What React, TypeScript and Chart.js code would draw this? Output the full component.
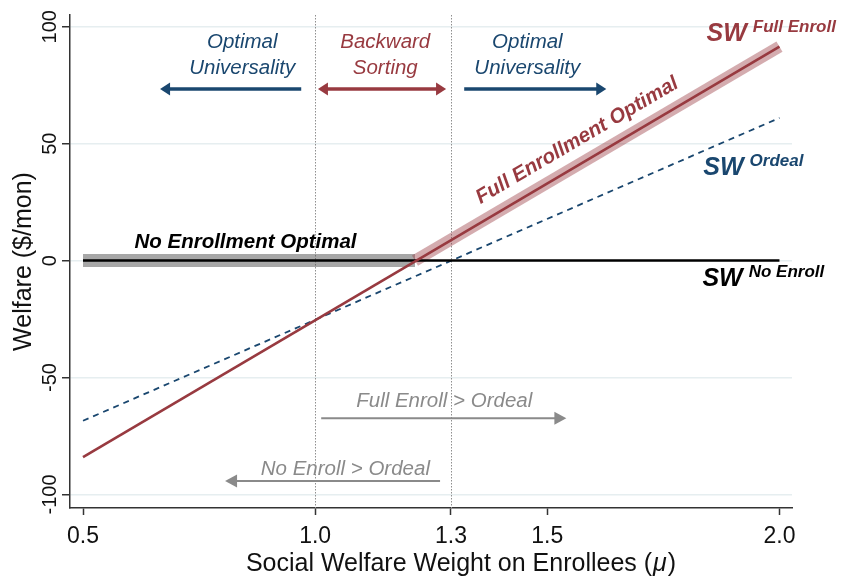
import React, { useEffect, useRef } from 'react';
import { Chart, registerables } from 'chart.js';
Chart.register(...registerables);

// ---------- data ----------
const muEnds = [0.5, 2.0];
const swFullEnroll = [-84, 91.5];
const swOrdeal = [-68.5, 61];
const swNoEnroll = [0, 0];
const bandNoEnrollMu = [0.5, 1.215];
const bandNoEnrollY = [0, 0];
const bandFullMu = [1.215, 2.0];
const bandFullY = [0, 91.5];

const xTickValues = [0.5, 1.0, 1.2925, 1.5, 2.0];
const xTickLabels = ['0.5', '1.0', '1.3', '1.5', '2.0'];
const yTickValues = [-100, -50, 0, 50, 100];
const yTickLabels = ['-100', '-50', '0', '50', '100'];
const refLineMu = [1.0, 1.2925];

const X_MIN = 0.472, X_MAX = 2.027, Y_MIN = -105.8, Y_MAX = 105;

const NAVY = '#1a476f';
const MAROON = '#983a40';
const GRAY = '#8a8a8a';
const FONT = '"Liberation Sans", Arial, Helvetica, sans-serif';

// region labels (top)
const regionText = [
  { lines: ['Optimal', 'Universality'], mu: 0.843, color: NAVY },
  { lines: ['Backward', 'Sorting'], mu: 1.151, color: MAROON },
  { lines: ['Optimal', 'Universality'], mu: 1.457, color: NAVY },
];
const regionTextY = [90.9, 79.8];
const regionArrows = [
  { from: 0.97, to: 0.666, both: false, color: NAVY },
  { from: 1.282, to: 1.006, both: true, color: MAROON },
  { from: 1.321, to: 1.627, both: false, color: NAVY },
];
const regionArrowY = 73.4;

// comparison labels (bottom, gray)
const compareText = [
  { text: 'Full Enroll > Ordeal', mu: 1.278, y: -62.8 },
  { text: 'No Enroll > Ordeal', mu: 1.065, y: -91.8 },
];
const compareArrows = [
  { from: 1.013, to: 1.541, y: -67.4 },
  { from: 1.269, to: 0.806, y: -94.3 },
];

// line labels
const swLabels = [
  { sup: 'Full Enroll', mu: 1.843, y: 94.05, color: MAROON },
  { sup: 'Ordeal', mu: 1.836, y: 36.7, color: NAVY },
  { sup: 'No Enroll', mu: 1.834, y: -10.7, color: '#000' },
];
const noEnrollOptimal = { text: 'No Enrollment Optimal', mu: 0.85, y: 5.5 };
const fullEnrollOptimal = { text: 'Full Enrollment Optimal', mu: 1.588, y: 43.3, offset: 16 };

const pts = (xs: number[], ys: number[]) => xs.map((x, i) => ({ x, y: ys[i] }));

function drawArrow(ctx: CanvasRenderingContext2D, x1: number, y1: number, x2: number, y2: number,
  color: string, lw: number, headLen: number, headHalf: number, both: boolean) {
  const ang = Math.atan2(y2 - y1, x2 - x1);
  const cos = Math.cos(ang), sin = Math.sin(ang);
  const sx = both ? x1 + cos * headLen * 0.8 : x1;
  const sy = both ? y1 + sin * headLen * 0.8 : y1;
  const ex = x2 - cos * headLen * 0.8, ey = y2 - sin * headLen * 0.8;
  ctx.save();
  ctx.strokeStyle = color; ctx.fillStyle = color; ctx.lineWidth = lw; ctx.lineCap = 'butt';
  ctx.beginPath(); ctx.moveTo(sx, sy); ctx.lineTo(ex, ey); ctx.stroke();
  const head = (tx: number, ty: number, c: number, s: number) => {
    ctx.beginPath();
    ctx.moveTo(tx, ty);
    ctx.lineTo(tx - c * headLen - s * headHalf, ty - s * headLen + c * headHalf);
    ctx.lineTo(tx - c * headLen + s * headHalf, ty - s * headLen - c * headHalf);
    ctx.closePath(); ctx.fill();
  };
  head(x2, y2, cos, sin);
  if (both) head(x1, y1, -cos, -sin);
  ctx.restore();
}

const annotPlugin = {
  id: 'annot',
  beforeDatasetsDraw(chart: any) {
    const { ctx, chartArea: a, scales } = chart;
    const x = scales.x;
    ctx.save();
    ctx.strokeStyle = '#8f8f8f'; ctx.lineWidth = 1; ctx.setLineDash([1.5, 1.5]);
    refLineMu.forEach((v) => {
      const px = Math.round(x.getPixelForValue(v)) + 0.5;
      ctx.beginPath(); ctx.moveTo(px, a.top); ctx.lineTo(px, a.bottom); ctx.stroke();
    });
    ctx.restore();
  },
  afterDatasetsDraw(chart: any) {
    const { ctx, scales } = chart;
    const X = (v: number) => scales.x.getPixelForValue(v);
    const Y = (v: number) => scales.y.getPixelForValue(v);
    ctx.save();
    // region texts
    ctx.font = `italic 20.5px ${FONT}`; ctx.textAlign = 'center'; ctx.textBaseline = 'alphabetic';
    regionText.forEach((r) => {
      ctx.fillStyle = r.color;
      r.lines.forEach((ln, i) => ctx.fillText(ln, X(r.mu), Y(regionTextY[i])));
    });
    regionArrows.forEach((a) => drawArrow(ctx, X(a.from), Y(regionArrowY), X(a.to), Y(regionArrowY), a.color, 3.5, 10, 6.5, a.both));
    // gray comparisons
    ctx.font = `italic 20.5px ${FONT}`; ctx.fillStyle = GRAY; ctx.textAlign = 'center';
    compareText.forEach((c) => ctx.fillText(c.text, X(c.mu), Y(c.y)));
    compareArrows.forEach((a) => drawArrow(ctx, X(a.from), Y(a.y), X(a.to), Y(a.y), GRAY, 2, 12, 6.5, false));
    // SW labels
    swLabels.forEach((s) => {
      const x0 = X(s.mu), y0 = Y(s.y);
      ctx.fillStyle = s.color; ctx.textAlign = 'left';
      ctx.font = `italic bold 25px ${FONT}`;
      ctx.fillText('SW', x0, y0);
      const w = ctx.measureText('SW').width;
      ctx.font = `italic bold 17px ${FONT}`;
      ctx.fillText(s.sup, x0 + w + 6, y0 - 8.5);
    });
    // No Enrollment Optimal
    ctx.font = `italic bold 20.5px ${FONT}`; ctx.fillStyle = '#000'; ctx.textAlign = 'center';
    ctx.fillText(noEnrollOptimal.text, X(noEnrollOptimal.mu), Y(noEnrollOptimal.y));
    // Full Enrollment Optimal (rotated along line)
    const ang = Math.atan2(Y(swFullEnroll[1]) - Y(swFullEnroll[0]), X(muEnds[1]) - X(muEnds[0]));
    ctx.save();
    ctx.translate(X(fullEnrollOptimal.mu), Y(fullEnrollOptimal.y));
    ctx.rotate(ang);
    ctx.fillStyle = MAROON; ctx.font = `italic bold 20.5px ${FONT}`; ctx.textAlign = 'center';
    ctx.fillText(fullEnrollOptimal.text, 0, -fullEnrollOptimal.offset);
    ctx.restore();
    ctx.restore();
  },
  afterDraw(chart: any) {
    const { ctx, chartArea: a, scales } = chart;
    const X = (v: number) => scales.x.getPixelForValue(v);
    const Y = (v: number) => scales.y.getPixelForValue(v);
    ctx.save();
    ctx.fillStyle = '#111';
    // x tick labels
    ctx.font = `23px ${FONT}`; ctx.textAlign = 'center'; ctx.textBaseline = 'alphabetic';
    xTickValues.forEach((v, i) => ctx.fillText(xTickLabels[i], X(v), 543));
    // y tick labels rotated
    ctx.font = `20px ${FONT}`;
    yTickValues.forEach((v, i) => {
      ctx.save(); ctx.translate(56, Y(v)); ctx.rotate(-Math.PI / 2);
      ctx.fillText(yTickLabels[i], 0, 0); ctx.restore();
    });
    // y title
    ctx.font = `25px ${FONT}`;
    ctx.save(); ctx.translate(31, (a.top + a.bottom) / 2); ctx.rotate(-Math.PI / 2);
    ctx.fillText('Welfare ($/mon)', 0, 0); ctx.restore();
    // x title with italic mu
    const p1 = 'Social Welfare Weight on Enrollees (';
    const p2 = '\u03bc';
    const p3 = ')';
    ctx.font = `25px ${FONT}`;
    const w1 = ctx.measureText(p1).width, w3 = ctx.measureText(p3).width;
    ctx.font = `italic 25px ${FONT}`;
    const w2 = ctx.measureText(p2).width;
    const total = w1 + w2 + w3 + 2;
    let sx = 461 - total / 2;
    ctx.textAlign = 'left';
    ctx.font = `25px ${FONT}`; ctx.fillText(p1, sx, 571); sx += w1 + 1;
    ctx.font = `italic 25px ${FONT}`; ctx.fillText(p2, sx, 571); sx += w2 + 1;
    ctx.font = `25px ${FONT}`; ctx.fillText(p3, sx, 571);
    ctx.restore();
  },
};

export default function App() {
  const ref = useRef<HTMLCanvasElement>(null);
  useEffect(() => {
    const canvas = ref.current!;
    const chart = new Chart(canvas, {
      type: 'line',
      data: {
        datasets: [
          { data: pts(bandNoEnrollMu, bandNoEnrollY), borderColor: 'rgba(80,80,80,0.5)', borderWidth: 13, pointRadius: 0, borderCapStyle: 'butt', order: 10 } as any,
          { data: pts(bandFullMu, bandFullY), borderColor: 'rgba(152,58,64,0.42)', borderWidth: 12, pointRadius: 0, borderCapStyle: 'butt', order: 9 } as any,
          { data: pts(muEnds, swOrdeal), borderColor: NAVY, borderWidth: 1.8, borderDash: [6, 5], pointRadius: 0, order: 5 } as any,
          { data: pts(muEnds, swNoEnroll), borderColor: '#000', borderWidth: 2.6, pointRadius: 0, order: 4 } as any,
          { data: pts(muEnds, swFullEnroll), borderColor: MAROON, borderWidth: 2.6, pointRadius: 0, order: 3 } as any,
        ],
      },
      options: {
        responsive: false,
        animation: false,
        layout: { padding: { left: 0, top: 15, right: 49, bottom: 0 } },
        plugins: { legend: { display: false }, tooltip: { enabled: false } },
        scales: {
          x: {
            type: 'linear', min: X_MIN, max: X_MAX,
            afterBuildTicks: (s: any) => { s.ticks = xTickValues.map((v) => ({ value: v })); },
            afterFit: (s: any) => { s.height = 73; },
            ticks: { display: false },
            grid: { drawOnChartArea: false, drawTicks: true, tickLength: 7, tickColor: '#333', tickWidth: 1.5 },
            border: { display: true, color: '#333', width: 1.5 },
          },
          y: {
            type: 'linear', min: Y_MIN, max: Y_MAX,
            afterBuildTicks: (s: any) => { s.ticks = yTickValues.map((v) => ({ value: v })); },
            afterFit: (s: any) => { s.width = 70; },
            ticks: { display: false },
            grid: { color: '#e6eef0', lineWidth: 1.5, drawTicks: true, tickLength: 8, tickColor: '#333', tickWidth: 1.5 },
            border: { display: true, color: '#333', width: 1.5 },
          },
        },
      } as any,
      plugins: [annotPlugin],
    });
    return () => chart.destroy();
  }, []);
  return (
    <div style={{ position: 'absolute', left: 0, top: 0, width: 841, height: 581, background: '#fff' }}>
      <canvas ref={ref} width={841} height={581} style={{ display: 'block' }} />
    </div>
  );
}
